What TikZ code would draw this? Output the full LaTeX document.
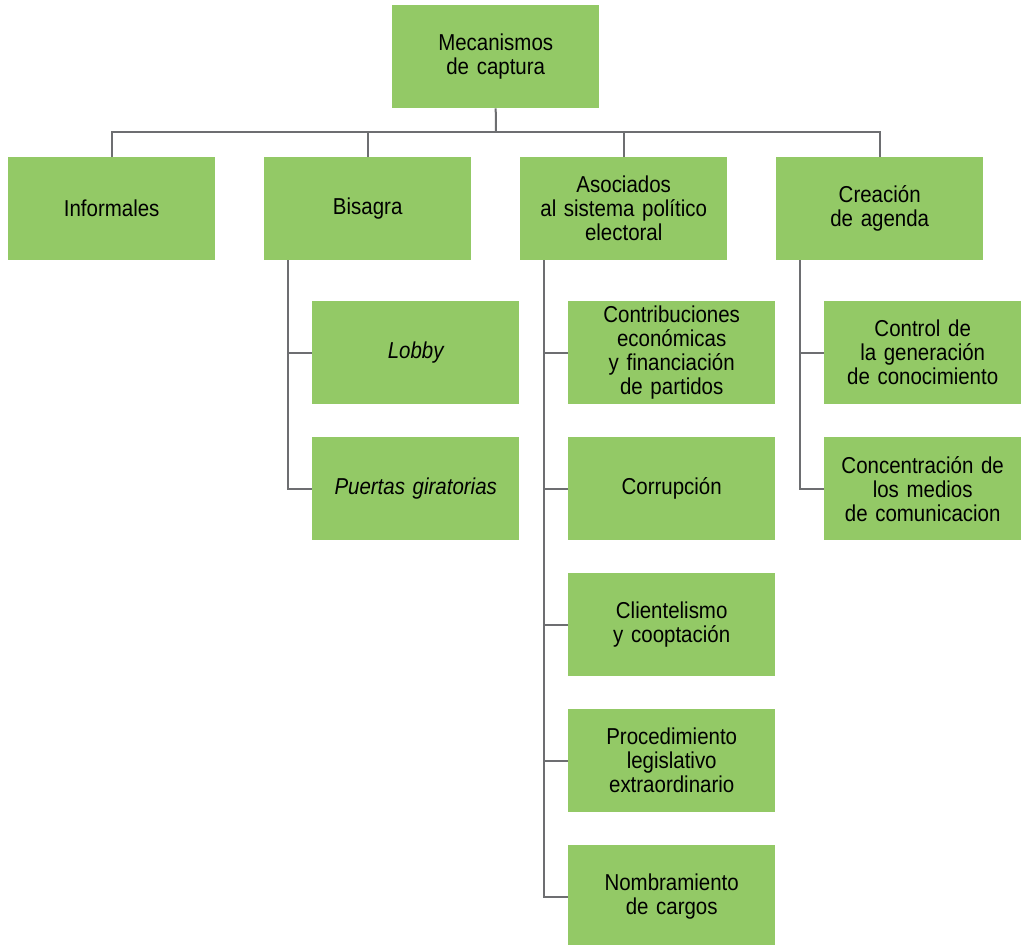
\documentclass[tikz,border=0pt]{standalone}
\usepackage{fontspec}
\setmainfont{Liberation Sans}[FakeStretch=0.89,WordSpace=0.8]
\definecolor{boxgreen}{HTML}{93C966}
\definecolor{linegray}{HTML}{6D6E71}
\begin{document}
\begin{tikzpicture}[x=1pt,y=-1pt,
  box/.style={fill=boxgreen,draw=none,minimum width=207pt,minimum height=103pt,inner sep=0pt,align=center,font=\fontsize{23}{24}\selectfont,anchor=north west,text width=200pt},
  conn/.style={draw=linegray,line width=2pt}]
\useasboundingbox (0,0) rectangle (1021,945);
\node[box] (top) at (392,5) {Mecanismos\\de captura};
\node[box] (inf) at (8,157) {Informales};
\node[box] (bis) at (264,157) {Bisagra};
\node[box] (aso) at (520,157) {Asociados\\al sistema político\\electoral};
\node[box] (cre) at (776,157) {Creación\\de agenda};
\node[box] (lob) at (312,301) {\itshape Lobby};
\node[box] (pue) at (312,437) {\itshape Puertas giratorias};
\node[box] (con) at (568,301) {Contribuciones\\económicas\\y financiación\\de partidos};
\node[box] (cor) at (568,437) {Corrupción};
\node[box] (cli) at (568,573) {Clientelismo\\y cooptación};
\node[box] (pro) at (568,709) {Procedimiento\\legislativo\\extraordinario};
\node[box] (nom) at (568,845) {Nombramiento\\de cargos};
\node[box,minimum width=197pt,text width=190pt] (ctl) at (824,301) {Control de\\la generación\\de conocimiento};
\node[box,minimum width=197pt,text width=190pt] (cmc) at (824,437) {Concentración de\\los medios\\de comunicacion};
\coordinate (bus) at (496,132);
\draw[conn] (top.south) -- (bus);
\draw[conn] (inf.north) -- (inf.north |- bus) -- (cre.north |- bus) -- (cre.north);
\draw[conn] (bis.north) -- (bis.north |- bus);
\draw[conn] (aso.north) -- (aso.north |- bus);
% Bisagra
\draw[conn] ([xshift=24pt]bis.south west) |- (pue.west);
\draw[conn] ([xshift=24pt]bis.south west |- lob.west) -- (lob.west);
% Asociados
\draw[conn] ([xshift=24pt]aso.south west) |- (nom.west);
\foreach \n in {con,cor,cli,pro}
  \draw[conn] ([xshift=24pt]aso.south west |- \n.west) -- (\n.west);
% Creacion
\draw[conn] ([xshift=24pt]cre.south west) |- (cmc.west);
\draw[conn] ([xshift=24pt]cre.south west |- ctl.west) -- (ctl.west);
\end{tikzpicture}
\end{document}
